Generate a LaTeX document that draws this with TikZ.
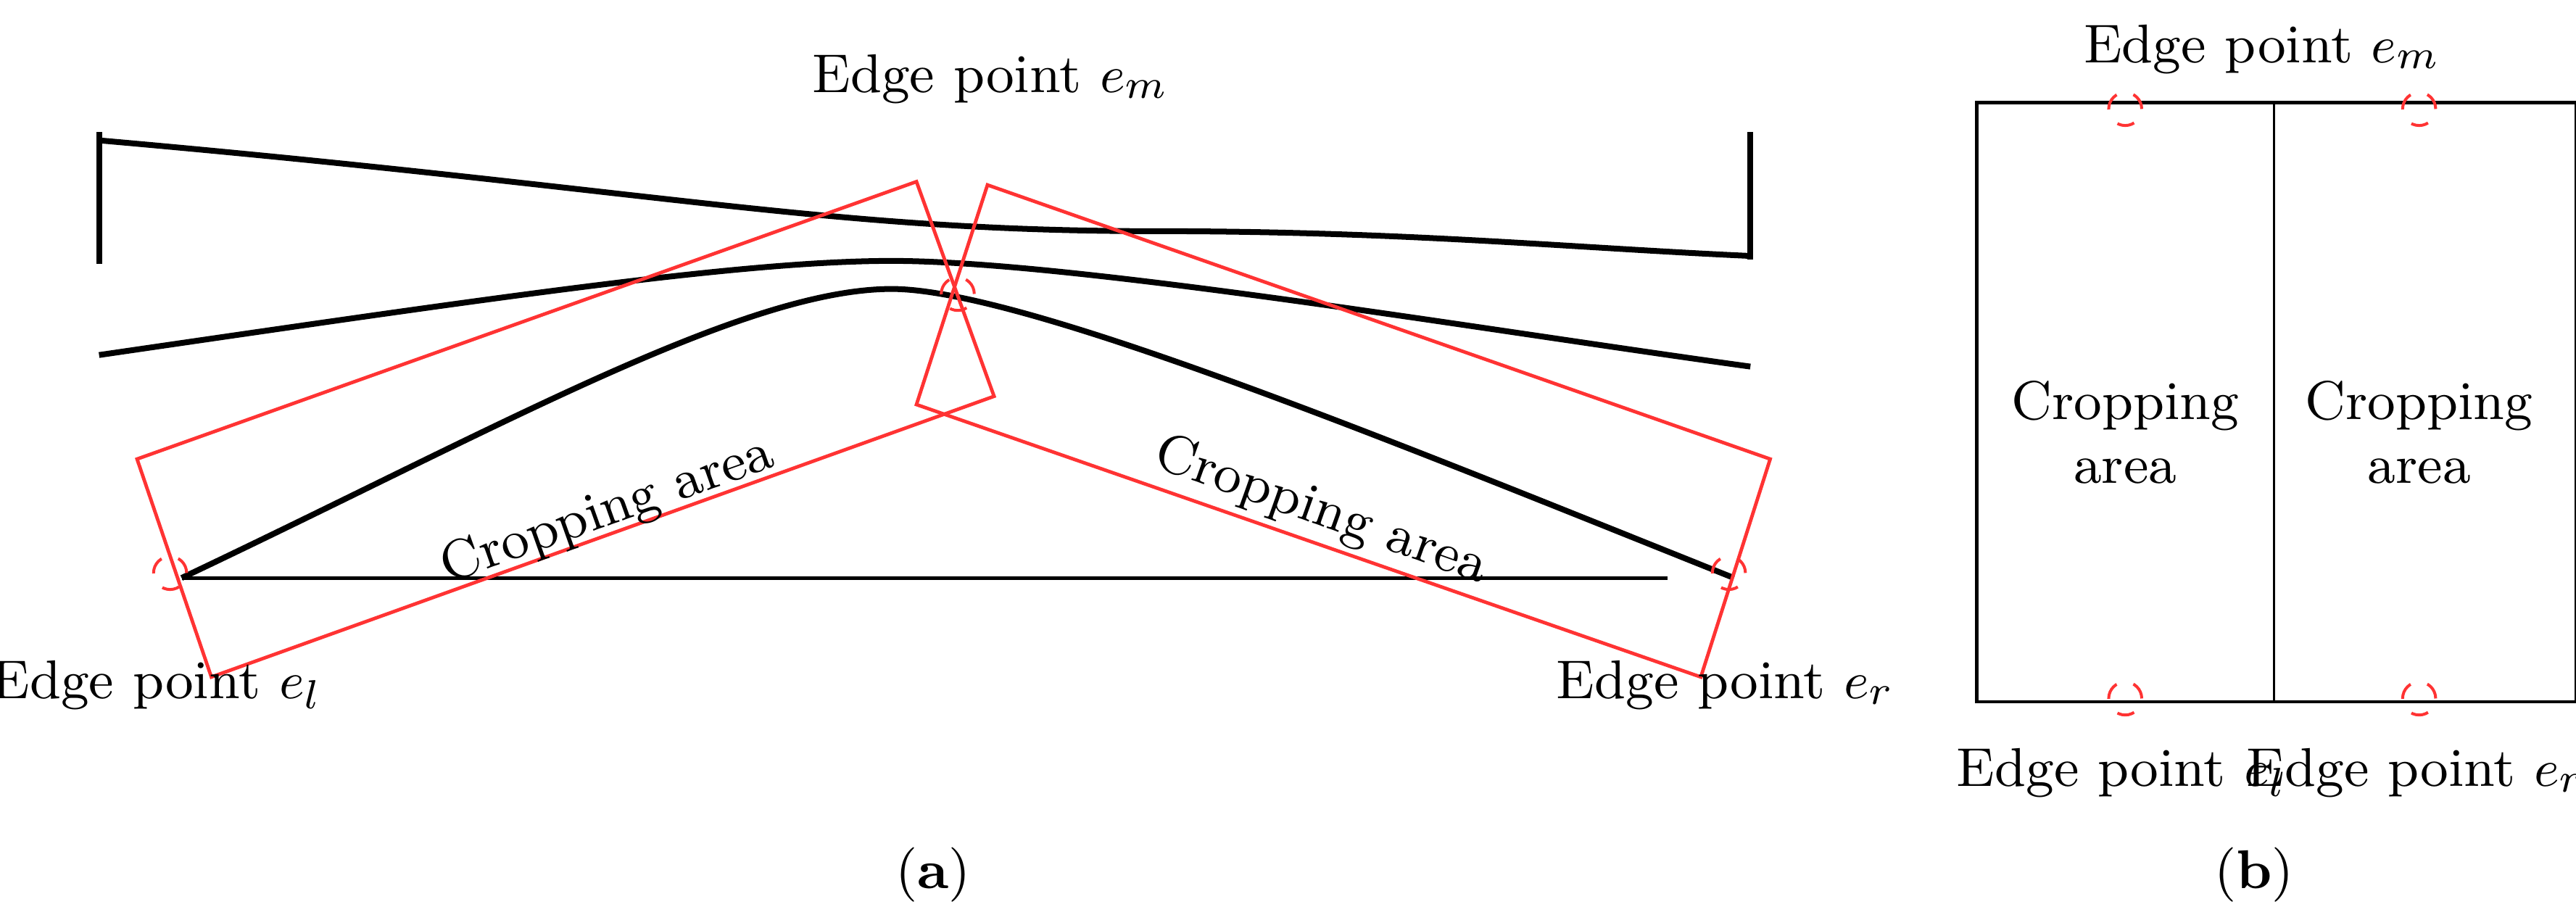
\documentclass[tikz,border=0pt]{standalone}
\usepackage{tikz}
\begin{document}
\begin{tikzpicture}[x=0.01cm,y=-0.01cm]
        \tikzset{crop/.style={draw=red!80, line width=0.6pt},
                 ept/.style={draw=red!80, dashed, line width=0.5pt, circle, minimum size=0.2cm, inner sep=0pt},
                 edge/.style={line width=1pt},
                 lbl/.style={font=\fontsize{9.4}{11}\selectfont}}
        \useasboundingbox (0,0) rectangle (1560,557);

        % panel (a)
        \coordinate (tl) at (60,85);
        \coordinate (tr) at (1060,155);
        \draw[edge] (60,80) -- (60,160);
        \draw[edge] (1060,80) -- (1060,157);
        \draw[edge] (tl) .. controls (400,115) and (500,140) .. (700,140) .. controls (850,140) and (950,150) .. (tr);
        \draw[edge] (60,215) .. controls (300,180) and (450,158) .. (540,158) .. controls (650,158) and (900,200) .. (1060,222);
        \draw[edge] (110,350) .. controls (300,260) and (450,175) .. (540,175) .. controls (620,175) and (850,270) .. (1050,350);
        \draw[line width=0.6pt] (110,350) -- (1010,350);

        \coordinate (la) at (83,278);
        \coordinate (lb) at (555,110);
        \coordinate (lc) at (602,240);
        \coordinate (ld) at (128,410);
        \draw[crop] (la) -- (lb) -- (lc) -- (ld) -- cycle;
        \coordinate (ra) at (598,112);
        \coordinate (rb) at (1072,278);
        \coordinate (rc) at (1030,410);
        \coordinate (rd) at (555,245);
        \draw[crop] (ra) -- (rb) -- (rc) -- (rd) -- cycle;

        \node[ept] (el) at (103,347) {};
        \node[ept] (em) at (580,178) {};
        \node[ept] (er) at (1047,347) {};

        \node[lbl] (tm) at (600,48) {Edge point $e_m$};
        \node[lbl, rotate=19.6] (cl) at (368,310) {Cropping area};
        \node[lbl, rotate=-19.6] (cr) at (800,310) {Cropping area};
        \node[lbl] (tl2) at (95,415) {Edge point $e_l$};
        \node[lbl] (tr2) at (1045,415) {Edge point $e_r$};
        \node[lbl] (pa) at (565,530) {(\textbf{a})};

        % panel (b)
        \draw[line width=0.6pt] (1197,62) rectangle (1560,425);
        \draw[line width=0.4pt] (1377,62) -- (1377,425);
        \node[ept] (bml) at (1287,66) {};
        \node[ept] (bmr) at (1465,66) {};
        \node[ept] (bll) at (1287,423) {};
        \node[ept] (brr) at (1465,423) {};
        \node[lbl] (bm) at (1370,30) {Edge point $e_m$};
        \node[lbl, align=center] (bc1) at (1287,262) {Cropping\\area};
        \node[lbl, align=center] (bc2) at (1465,262) {Cropping\\area};
        \node[lbl] (bl) at (1285,468) {Edge point $e_l$};
        \node[lbl] (br) at (1463,468) {Edge point $e_r$};
        \node[lbl] (pb) at (1365,530) {(\textbf{b})};
\end{tikzpicture}
\end{document}
